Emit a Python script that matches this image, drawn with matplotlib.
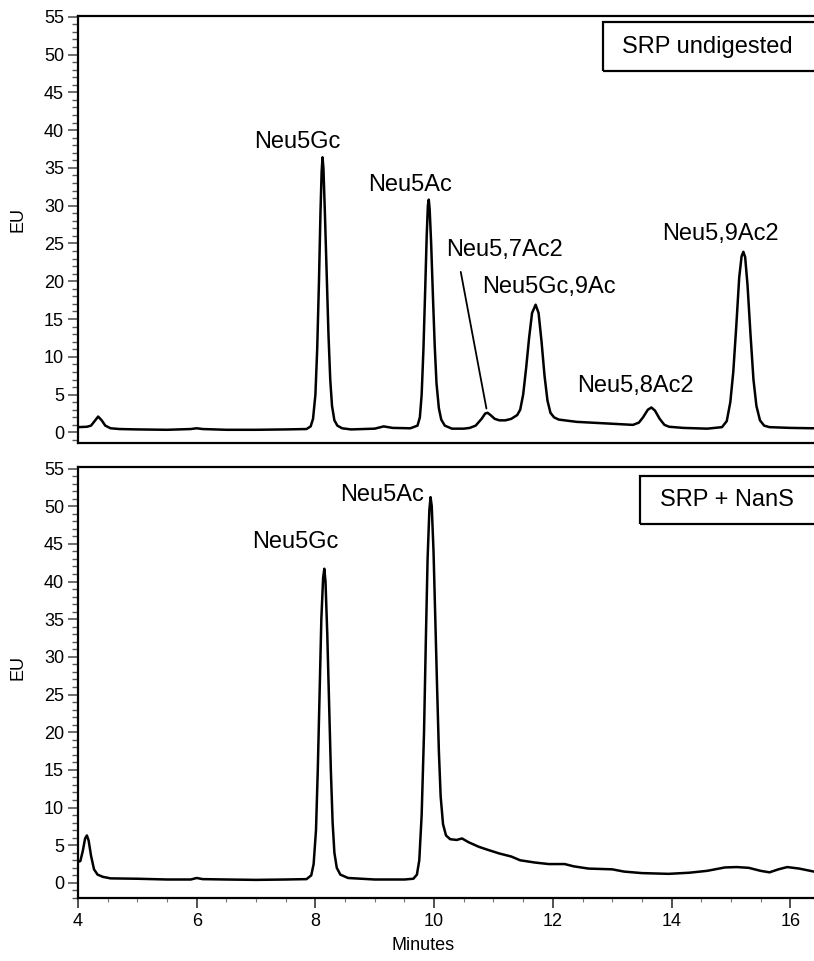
import matplotlib
matplotlib.use('Agg')
import matplotlib.pyplot as plt
from matplotlib.patches import Rectangle
from matplotlib.ticker import MultipleLocator

plt.rcParams['font.family'] = ['Liberation Sans', 'DejaVu Sans']

# Trace 1: SRP undigested (minutes, EU)
top_t = [4.00, 4.15, 4.22, 4.28, 4.34, 4.40, 4.46, 4.55, 4.70, 5.00, 5.50, 5.90, 6.00, 6.10,
         6.50, 7.00, 7.50, 7.85, 7.92, 7.96, 8.00, 8.03, 8.06, 8.085, 8.105, 8.12, 8.135,
         8.16, 8.19, 8.22, 8.25, 8.28, 8.32, 8.37, 8.45, 8.60, 9.00, 9.15, 9.30, 9.60,
         9.72, 9.76, 9.79, 9.82, 9.85, 9.875, 9.895, 9.91, 9.925, 9.95, 9.98, 10.01, 10.04,
         10.08, 10.12, 10.18, 10.30, 10.50, 10.60, 10.70, 10.80, 10.86, 10.90, 10.95, 11.02,
         11.10, 11.20, 11.30, 11.40, 11.45, 11.50, 11.55, 11.60, 11.65, 11.71, 11.76, 11.81,
         11.86, 11.91, 11.96, 12.02, 12.10, 12.40, 13.00, 13.35, 13.45, 13.52, 13.60, 13.66,
         13.72, 13.80, 13.88, 13.96, 14.20, 14.60, 14.85, 14.93, 14.99, 15.04, 15.09, 15.14,
         15.18, 15.21, 15.24, 15.28, 15.33, 15.38, 15.43, 15.49, 15.56, 15.65, 16.00, 16.40]
top_eu = [0.7, 0.75, 0.9, 1.5, 2.1, 1.6, 0.9, 0.55, 0.45, 0.4, 0.35, 0.45, 0.55, 0.45,
          0.35, 0.35, 0.4, 0.45, 0.8, 1.8, 5, 11, 20, 29, 34.5, 36.4, 35,
          29, 21, 13, 7, 3.5, 1.6, 0.9, 0.55, 0.4, 0.5, 0.8, 0.6, 0.55,
          0.9, 2.0, 5, 11, 19, 26, 30, 30.8, 29.5, 25, 18, 11.5, 6.5,
          3.2, 1.7, 0.9, 0.5, 0.5, 0.6, 0.9, 1.8, 2.5, 2.6, 2.3, 1.8,
          1.6, 1.6, 1.8, 2.3, 3.0, 5, 8.5, 12.5, 15.8, 16.9, 15.8, 12,
          7.5, 4.2, 2.6, 2.0, 1.7, 1.4, 1.15, 1.0, 1.3, 2.0, 3.0, 3.3,
          2.9, 1.8, 1.0, 0.75, 0.6, 0.5, 0.7, 1.5, 4, 8, 14, 20.5,
          23.3, 23.9, 23.2, 19.5, 13, 7, 3.5, 1.6, 0.9, 0.7, 0.6, 0.55]

# Trace 2: SRP + NanS
bot_t = [4.00, 4.04, 4.08, 4.12, 4.15, 4.18, 4.22, 4.27, 4.33, 4.42, 4.55, 5.00, 5.50, 5.90,
         6.00, 6.10, 6.50, 7.00, 7.50, 7.85, 7.93, 7.97, 8.01, 8.04, 8.07, 8.10, 8.13, 8.15,
         8.17, 8.20, 8.23, 8.26, 8.29, 8.32, 8.36, 8.42, 8.55, 9.00, 9.50, 9.65, 9.71, 9.75,
         9.79, 9.83, 9.86, 9.89, 9.92, 9.94, 9.96, 9.99, 10.02, 10.05, 10.08, 10.11, 10.15,
         10.20, 10.27, 10.38, 10.47, 10.58, 10.75, 10.90, 11.10, 11.30, 11.45, 11.70, 11.93,
         12.20, 12.35, 12.60, 13.00, 13.20, 13.50, 13.95, 14.30, 14.60, 14.90, 15.10, 15.30,
         15.50, 15.65, 15.80, 15.95, 16.15, 16.40]
bot_eu = [2.8, 2.9, 4.2, 5.9, 6.3, 5.6, 3.6, 1.8, 1.1, 0.8, 0.6, 0.55, 0.45, 0.45,
          0.65, 0.5, 0.45, 0.4, 0.45, 0.5, 1.0, 2.5, 7, 15, 25, 35, 40.5, 41.7,
          40, 33, 24, 15, 8, 4, 2, 1.1, 0.65, 0.45, 0.45, 0.55, 1.1, 3,
          9, 20, 32, 43, 49.5, 51.2, 50, 44, 35, 26, 17.5, 11.5, 7.8,
          6.3, 5.8, 5.7, 5.9, 5.4, 4.8, 4.4, 3.9, 3.5, 3.0, 2.7, 2.5,
          2.5, 2.2, 1.9, 1.8, 1.5, 1.3, 1.2, 1.35, 1.6, 2.05, 2.1, 2.0,
          1.6, 1.4, 1.8, 2.1, 1.9, 1.5]

top_labels = ['Neu5Gc', 'Neu5Ac', 'Neu5,7Ac2', 'Neu5Gc,9Ac', 'Neu5,8Ac2', 'Neu5,9Ac2']
top_label_x = [7.70, 9.60, 11.19, 11.94, 13.40, 14.82]
top_label_y = [38.4, 32.8, 24.2, 19.3, 6.1, 26.2]
bot_labels = ['Neu5Gc', 'Neu5Ac']
bot_label_x = [7.66, 9.13]
bot_label_y = [45.3, 51.5]

fig = plt.figure(figsize=(8.14, 9.61), dpi=100)
ax1 = fig.add_axes([0.0958, 0.539, 0.9042, 0.4444])
ax2 = fig.add_axes([0.0958, 0.0656, 0.9042, 0.4484])


def style(ax, ylo, yhi):
    ax.set_xlim(4, 16.4)
    ax.set_ylim(ylo, yhi)
    ax.yaxis.set_major_locator(MultipleLocator(5))
    ax.yaxis.set_minor_locator(MultipleLocator(1))
    ax.xaxis.set_major_locator(MultipleLocator(2))
    ax.xaxis.set_minor_locator(MultipleLocator(0.5))
    for s in ['left', 'bottom', 'top']:
        ax.spines[s].set_linewidth(1.6)
    ax.spines['right'].set_visible(False)
    ax.tick_params(axis='y', which='major', length=7, width=1.2, color='#555555',
                   labelsize=13, pad=3)
    ax.tick_params(axis='y', which='minor', length=4, width=1.0, color='#555555')
    ax.tick_params(axis='x', which='major', length=7, width=1.2, color='#333333',
                   labelsize=13, pad=4)
    ax.tick_params(axis='x', which='minor', length=3, width=0.8, color='#777777')


style(ax1, -1.4, 55.1)
style(ax2, -2.0, 55.2)
ax1.tick_params(axis='x', which='both', bottom=False, labelbottom=False)

ax1.plot(top_t, top_eu, color='black', lw=1.8, solid_joinstyle='round')
ax2.plot(bot_t, bot_eu, color='black', lw=1.8, solid_joinstyle='round')

for lab, x, y in zip(top_labels, top_label_x, top_label_y):
    ax1.text(x, y, lab, fontsize=17, ha='center', va='center')
for lab, x, y in zip(bot_labels, bot_label_x, bot_label_y):
    ax2.text(x, y, lab, fontsize=17, ha='center', va='center')

# leader line for the small Neu5,7Ac2 peak
ax1.annotate('', xy=(10.89, 2.8), xytext=(10.44, 21.6),
             arrowprops=dict(arrowstyle='-', lw=1.3, color='black'))

# sample boxes
W, H = 814, 961
fig.add_artist(Rectangle((603 / W, 1 - 71 / H), 0.3, 49 / H, transform=fig.transFigure,
                         fill=False, lw=1.6, ec='black'))
fig.text(622 / W, 1 - 47 / H, 'SRP undigested', fontsize=17, ha='left', va='center')
fig.add_artist(Rectangle((640 / W, 1 - 524 / H), 0.3, 48 / H, transform=fig.transFigure,
                         fill=False, lw=1.6, ec='black'))
fig.text(660 / W, 1 - 500 / H, 'SRP + NanS', fontsize=17, ha='left', va='center')

fig.text(18 / W, 1 - 220 / H, 'EU', fontsize=13, rotation=90, ha='center', va='center')
fig.text(18 / W, 1 - 668 / H, 'EU', fontsize=13, rotation=90, ha='center', va='center')
fig.text(423 / W, 1 - 946 / H, 'Minutes', fontsize=13, ha='center', va='center')

fig.savefig('out.png', dpi=100)
